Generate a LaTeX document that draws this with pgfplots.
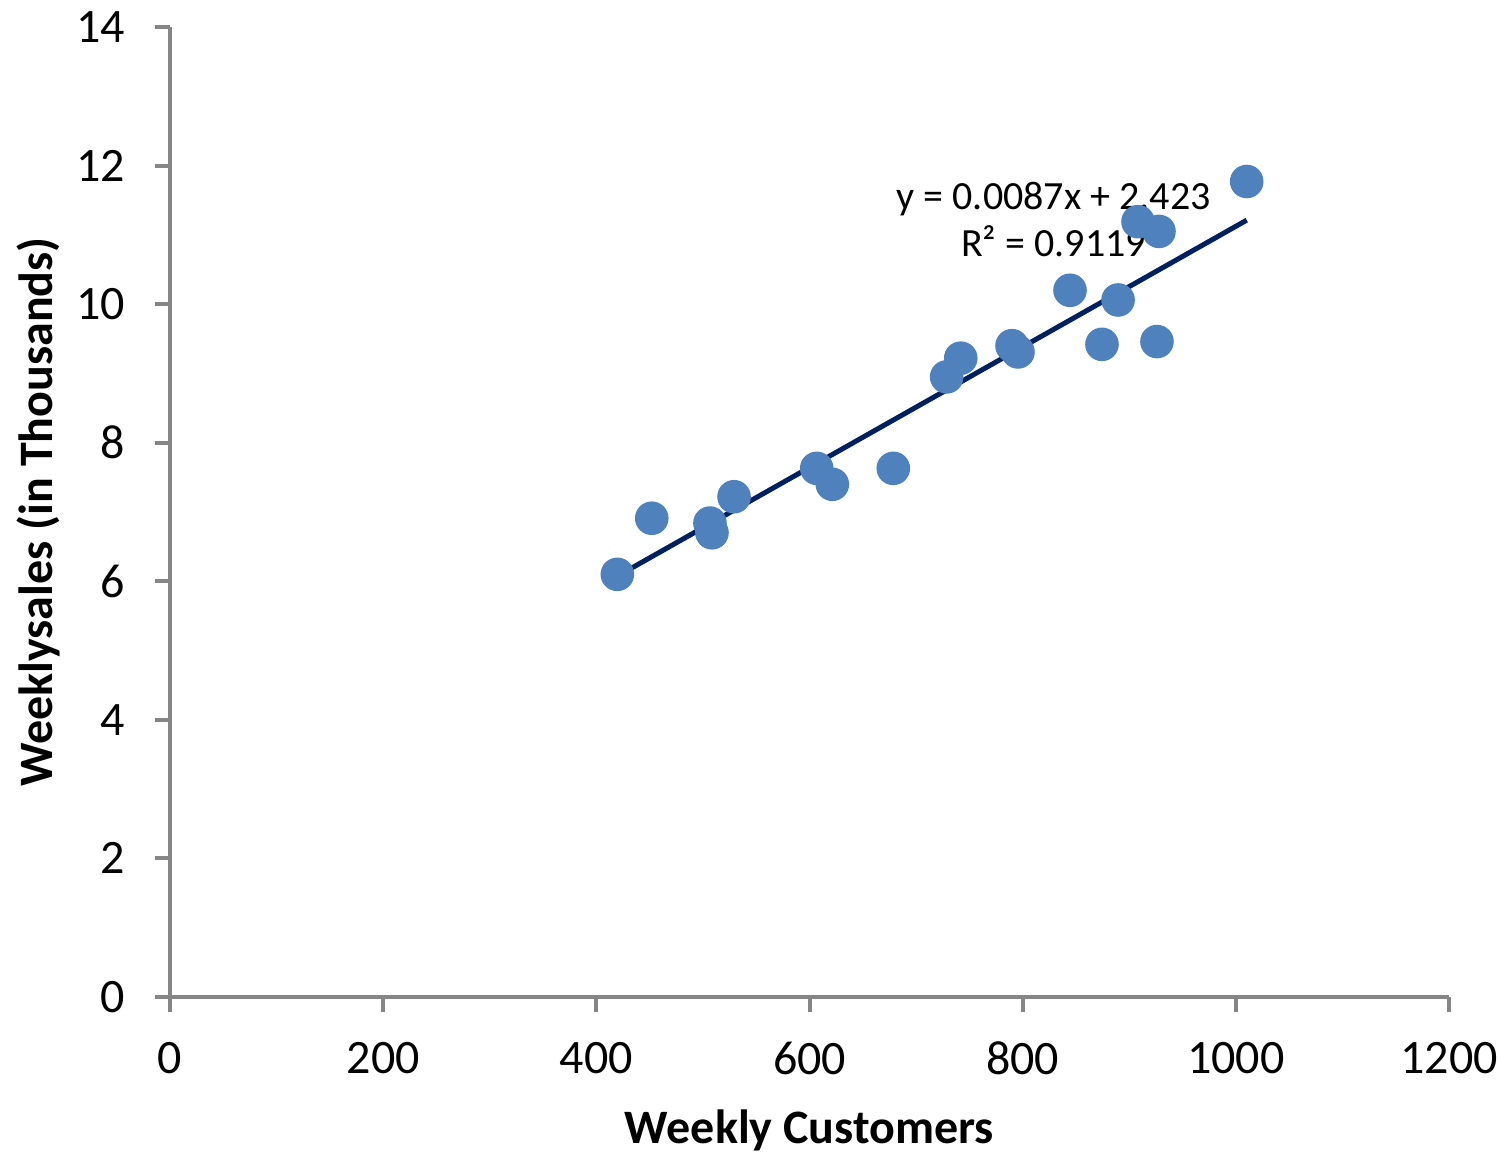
\documentclass[border=0pt]{standalone}
\usepackage{pgfplots}
\pgfplotsset{compat=1.18}
\usepackage{fontspec}
\setmainfont{Carlito}
\definecolor{ptblue}{HTML}{4F81BD}
\definecolor{trend}{HTML}{002060}
\definecolor{axgray}{HTML}{868686}
\begin{document}
\begin{tikzpicture}
\begin{axis}[
  scale only axis,
  width=319.75pt, height=242.5pt,
  xmin=0, xmax=1200, ymin=0, ymax=14,
  xtick={0,200,...,1200}, ytick={0,2,...,14},
  axis lines=left,
  axis line style={-, axgray, line width=1pt},
  tick style={axgray, line width=1pt},
  tick align=outside,
  major tick length=3.75pt,
  /pgf/number format/assume math mode=true,
  /pgf/number format/1000 sep={},
  tick label style={font=\fontsize{12}{14}\selectfont, black},
  yticklabel style={xshift=-4pt},
  xticklabel style={yshift=-4pt},
  xlabel={\textbf{Weekly Customers}},
  ylabel={\textbf{Weeklysales (in Thousands)}},
  label style={font=\fontsize{12}{14}\selectfont},
  xlabel style={at={(rel axis cs:0.5,0)}, anchor=base, yshift=-36.5pt},
  ylabel style={at={(rel axis cs:0,0.5)}, anchor=center, yshift=33pt},
  clip=false,
]
\addplot[only marks, mark=*, mark size=4pt, mark options={fill=ptblue, draw=ptblue}] coordinates {
(419.7,6.10) (452.0,6.91) (506.6,6.84) (508.5,6.70) (529.2,7.22)
(606.8,7.63) (621.4,7.40) (678.6,7.63) (728.7,8.95) (741.9,9.22)
(790,9.40) (795.6,9.31) (844.4,10.20) (874.4,9.42) (889.5,10.06)
(908.2,11.19) (927.9,11.05) (926.0,9.46) (1010.2,11.77)
};
\addplot[trend, line width=1.25pt] coordinates {(419.7,6.074) (1010.2,11.212)};
\node[align=center, font=\fontsize{10}{11.75}\selectfont, inner sep=0pt] at (axis cs:829,11.22) {y = 0.0087x + 2.423\\ R² = 0.9119};
\end{axis}
\pgfresetboundingbox
\path[use as bounding box] (current axis.south west) ++(-42.5pt,-39.75pt) rectangle ([shift={(15pt,6.75pt)}]current axis.north east);
\end{tikzpicture}
\end{document}
